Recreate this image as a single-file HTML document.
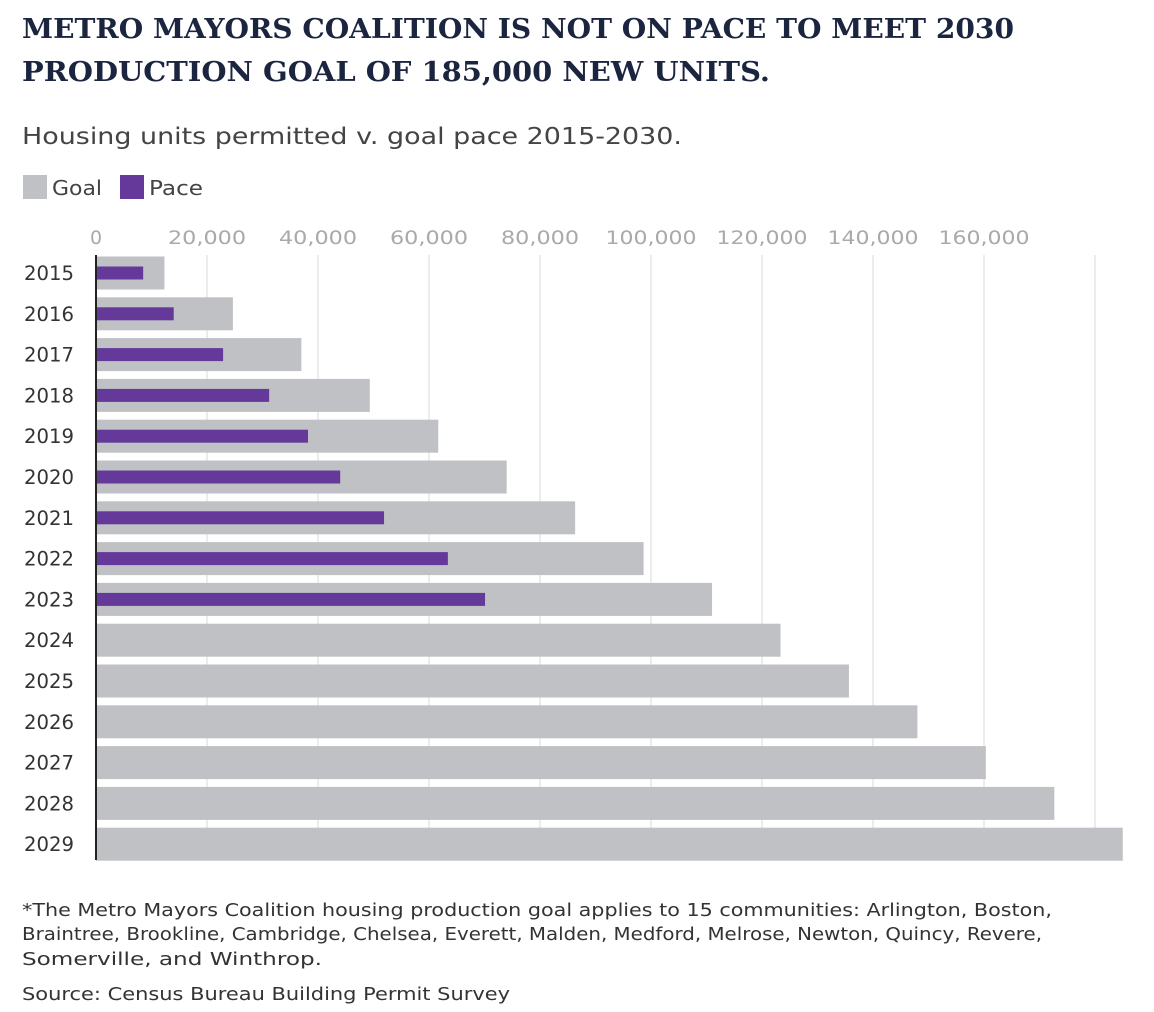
<!DOCTYPE html>
<html><head><meta charset="utf-8"><style>
body{margin:0;background:#fff;}
svg{display:block;font-family:"DejaVu Sans","Liberation Sans",sans-serif;}
</style></head><body>
<svg id="chart" width="1154" height="1012" viewBox="0 0 1154 1012">
<text x="22" y="38" font-family="DejaVu Serif" font-weight="bold" font-size="27" fill="#1b2540" textLength="992" lengthAdjust="spacingAndGlyphs">METRO MAYORS COALITION IS NOT ON PACE TO MEET 2030</text>
<text x="22" y="81" font-family="DejaVu Serif" font-weight="bold" font-size="27" fill="#1b2540" textLength="748" lengthAdjust="spacingAndGlyphs">PRODUCTION GOAL OF 185,000 NEW UNITS.</text>
<text x="22" y="144" font-size="23" fill="#444" textLength="660" lengthAdjust="spacingAndGlyphs">Housing units permitted v. goal pace 2015-2030.</text>
<g>
<rect x="23" y="175" width="24" height="24" fill="#c0c1c4"/>
<text x="52" y="195" font-size="20" fill="#444" textLength="50" lengthAdjust="spacingAndGlyphs">Goal</text>
<rect x="120" y="175" width="24" height="24" fill="#65399a"/>
<text x="149" y="195" font-size="20" fill="#444" textLength="54" lengthAdjust="spacingAndGlyphs">Pace</text>
</g>
<g id="grid"></g><g id="bars"></g><g id="labels"></g>
<line x1="96" y1="255" x2="96" y2="860" stroke="#222" stroke-width="2"/>
<text x="22" y="916" font-size="17.5" fill="#333" textLength="1030" lengthAdjust="spacingAndGlyphs">*The Metro Mayors Coalition housing production goal applies to 15 communities: Arlington, Boston,</text>
<text x="22" y="940" font-size="17.5" fill="#333" textLength="1020" lengthAdjust="spacingAndGlyphs">Braintree, Brookline, Cambridge, Chelsea, Everett, Malden, Medford, Melrose, Newton, Quincy, Revere,</text>
<text x="22" y="965" font-size="17.5" fill="#333" textLength="300" lengthAdjust="spacingAndGlyphs">Somerville, and Winthrop.</text>
<text x="22" y="1000" font-size="17.5" fill="#333" textLength="488" lengthAdjust="spacingAndGlyphs">Source: Census Bureau Building Permit Survey</text>
</svg>
<script>
const years=["2015","2016","2017","2018","2019","2020","2021","2022","2023","2024","2025","2026","2027","2028","2029"];
const goal=[12333,24667,37000,49333,61667,74000,86333,98667,111000,123333,135667,148000,160333,172667,185000];
const pace=[8500,14000,22900,31200,38200,44000,51900,63400,70100,null,null,null,null,null,null];
const ticks=[0,20000,40000,60000,80000,100000,120000,140000,160000,180000];
const tickLabels=["0","20,000","40,000","60,000","80,000","100,000","120,000","140,000","160,000",""];
const NS="http://www.w3.org/2000/svg";
const x=v=>96+v*0.00555;
const yc=i=>273+i*40.8;
function mk(t,a,p){const e=document.createElementNS(NS,t);for(const k in a)e.setAttribute(k,a[k]);document.getElementById(p).appendChild(e);return e;}
ticks.forEach((t,i)=>{
 if(t>0){const l=mk('line',{x1:x(t),x2:x(t),y1:255,y2:860,stroke:'#e6e6e6','stroke-width':1.5},'grid');
 
 }
 const lab=tickLabels[i];
 if(lab){const a={x:x(t),y:244,'text-anchor':'middle','font-size':19,fill:'#aaa'};
 if(lab.length>1){a.textLength=lab.length*13;a.lengthAdjust='spacingAndGlyphs';}
 const tx=mk('text',a,'labels');tx.textContent=lab;
 
 }
});
years.forEach((yr,i)=>{
 const g=mk('rect',{x:96,y:yc(i)-16.5,width:x(goal[i])-96,height:33,fill:'#c0c1c4'},'bars');
 
 
 if(pace[i]!=null){const p=mk('rect',{x:96,y:yc(i)-6.5,width:x(pace[i])-96,height:13,fill:'#65399a'},'bars');
 
 }
 const t=mk('text',{x:24,y:yc(i)+7,'font-size':19.5,fill:'#333',textLength:50,lengthAdjust:'spacingAndGlyphs'},'labels');t.textContent=yr;
 
 
});
</script>
</body></html>
